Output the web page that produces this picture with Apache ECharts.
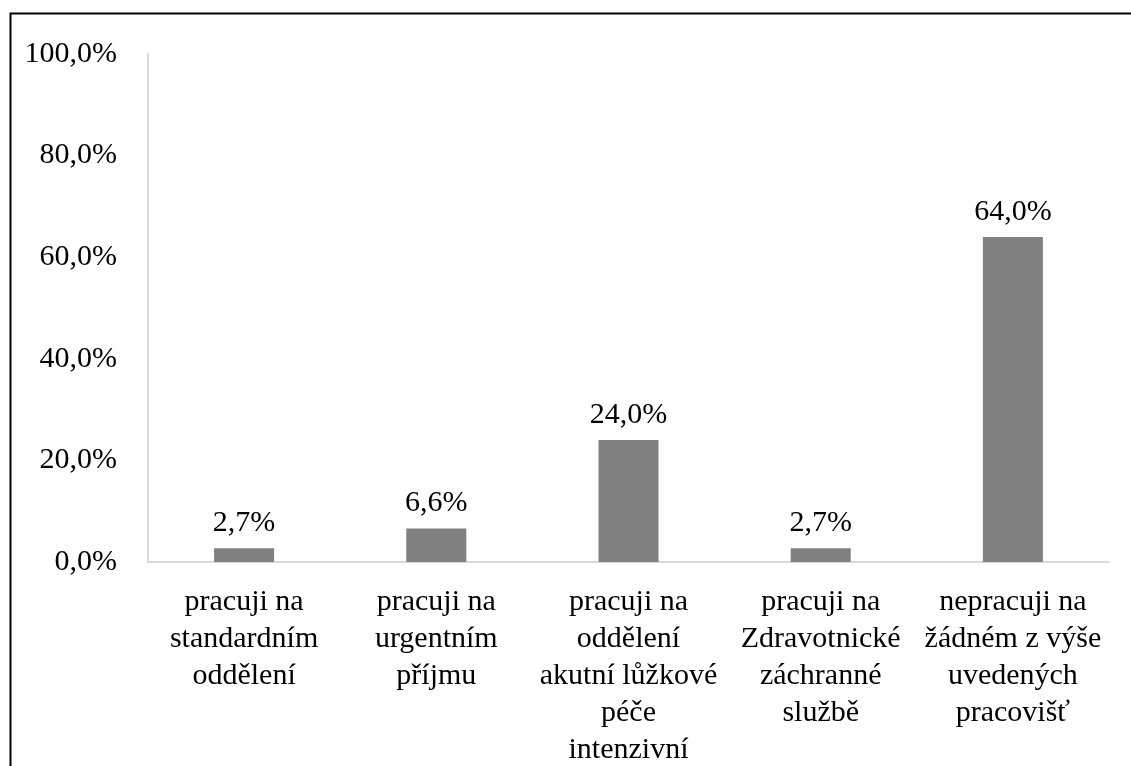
<!DOCTYPE html>
<html>
<head>
<meta charset="utf-8">
<script src="https://cdn.jsdelivr.net/npm/echarts@6/dist/echarts.min.js"></script>
<style>html,body{margin:0;padding:0;background:#fff;}#c{width:1131px;height:766px;}</style>
</head>
<body>
<div id="c"></div>
<script>
const categories = [
  "pracuji na\nstandardním\noddělení",
  "pracuji na\nurgentním\npříjmu",
  "pracuji na\noddělení\nakutní lůžkové\npéče\nintenzivní",
  "pracuji na\nZdravotnické\nzáchranné\nslužbě",
  "nepracuji na\nžádném z výše\nuvedených\npracovišť"
];
const values = [2.7, 6.6, 24.0, 2.7, 64.0];
const yTicks = [0, 20, 40, 60, 80, 100];

const fmt = v => v.toFixed(1).replace('.', ',') + '%';
const font = '"Liberation Serif", "Times New Roman", serif';

const chart = echarts.init(document.getElementById('c'), null, {renderer: 'canvas'});
chart.setOption({
  animation: false,
  backgroundColor: '#fff',
  graphic: [{
    type: 'rect',
    shape: {x: 10.5, y: 13.5, width: 1200, height: 800},
    style: {fill: 'none', stroke: '#000', lineWidth: 2}
  }],
  grid: {left: 148, right: 22, top: 54, bottom: 204, outerBoundsMode: 'none', containLabel: false},
  xAxis: {
    type: 'category',
    data: categories,
    axisLine: {show: true, lineStyle: {color: '#d9d9d9', width: 2}},
    axisTick: {show: false},
    axisLabel: {
      interval: 0, margin: 22, color: '#000',
      fontFamily: font, fontSize: 30, lineHeight: 37, align: 'center',
      hideOverlap: false
    }
  },
  yAxis: {
    type: 'value',
    min: yTicks[0], max: yTicks[yTicks.length - 1], interval: 20,
    axisLine: {show: true, lineStyle: {color: '#d9d9d9', width: 2}},
    axisTick: {show: false},
    splitLine: {show: false},
    axisLabel: {
      margin: 31, color: '#000', fontFamily: font, fontSize: 30,
      formatter: v => fmt(v)
    }
  },
  series: [{
    type: 'bar',
    data: values,
    barWidth: 60,
    itemStyle: {color: '#808080'},
    label: {
      show: true, position: 'top', distance: 10,
      color: '#000', fontFamily: font, fontSize: 30,
      formatter: p => fmt(p.value)
    }
  }]
});
</script>
</body>
</html>
